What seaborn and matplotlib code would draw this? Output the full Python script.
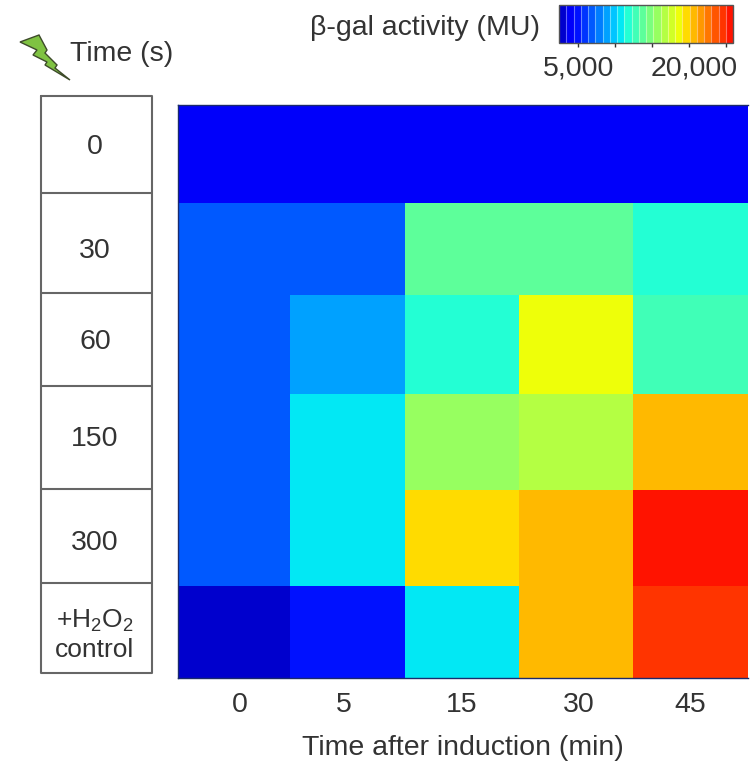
import numpy as np
import pandas as pd
import matplotlib
matplotlib.use("Agg")
import matplotlib.pyplot as plt
from matplotlib.colors import ListedColormap
from matplotlib.patches import Polygon
from matplotlib.transforms import ScaledTranslation
import seaborn as sns

sns.set_theme(style="white")
plt.rcParams['font.family'] = ['Liberation Sans', 'DejaVu Sans']
plt.rcParams['mathtext.default'] = 'regular'

induction_times = ["0", "5", "15", "30", "45"]
pulse_times = ["0", "30", "60", "150", "300", "+H$_2$O$_2$\ncontrol"]

row_0 = [3400, 3400, 3400, 3400, 3400]
row_30 = [7300, 7300, 13700, 13700, 12100]
row_60 = [7300, 8850, 11500, 18600, 12650]
row_150 = [7300, 10400, 15900, 16700, 20500]
row_300 = [7300, 11000, 19500, 21000, 26000]
row_ctrl = [3000, 4850, 11000, 21000, 25000]

VMIN, VMAX = 2400, 26000
W, H = 755, 761
FS = 20.5

# pixel edges of the unequal cells, and of the label table
col_edges = [178, 290, 405, 519, 633, 748]
row_edges = [105, 203, 295, 394, 490, 586, 678]
box_edges = [96, 193, 293, 386, 489, 583, 673]
label_y = [147, 251, 342, 439, 543, 635]

def axes_px(x0, y0, x1, y1):
    return [x0 / W, 1 - y1 / H, (x1 - x0) / W, (y1 - y0) / H]

def warp(edges):
    idx = np.arange(len(edges), dtype=float)
    px = np.asarray(edges, dtype=float)
    return (lambda v: np.interp(v, idx, px), lambda p: np.interp(p, px, idx))

fig = plt.figure(figsize=(W / 100, H / 100), dpi=100, facecolor="white")
ax = fig.add_axes(axes_px(178, 105, 748, 678))
cax = fig.add_axes(axes_px(559, 5, 733, 43))

df = pd.DataFrame([row_0, row_30, row_60, row_150, row_300, row_ctrl],
                  index=pulse_times, columns=induction_times)
cmap = ListedColormap(plt.get_cmap("jet")(np.linspace(0.07, 0.89, 24)))
sns.heatmap(df, ax=ax, cmap=cmap, vmin=VMIN, vmax=VMAX, cbar_ax=cax,
            cbar_kws={"orientation": "horizontal", "drawedges": True}, linewidths=0)

ax.set_xscale("function", functions=warp(col_edges))
ax.set_yscale("function", functions=warp(row_edges))
ax.set_xlim(0, 5)
ax.set_ylim(6, 0)

tc = "#333333"
ax.set_xticks([0.55, 1.47, 2.5, 3.52, 4.5], induction_times)
ax.set_xticks([], minor=True)
ax.set_yticks([])
ax.set_yticks([], minor=True)
ax.set_ylabel("")
ax.tick_params(axis="x", which="both", length=0, pad=10, labelsize=FS, labelcolor=tc)
ax.set_xlabel("Time after induction (min)", fontsize=FS, color=tc, labelpad=12)
for name, s in ax.spines.items():
    s.set_visible(name != "right")
    s.set_color("#1a2a6c")
    s.set_linewidth(1)

# colour bar
cbar = ax.collections[0].colorbar
cbar.set_ticks([5000, 10000, 15000, 20000, 25000], labels=["5,000", "", "", "20,000", ""])
cax.tick_params(axis="x", direction="inout", length=6, width=1, color="#333333",
                labelsize=FS, labelcolor=tc, pad=6, bottom=True)
lab20k = cax.get_xticklabels()[3]
lab20k.set_transform(lab20k.get_transform() + ScaledTranslation(5 / 100, 0, fig.dpi_scale_trans))
cbar.dividers.set_color("#ffffff")
cbar.dividers.set_alpha(0.4)
cbar.dividers.set_linewidth(0.8)
cbar.outline.set_edgecolor("#555555")
cbar.outline.set_linewidth(1)
fig.text(540 / W, 1 - 28 / H, "β-gal activity (MU)", ha="right", va="center",
         fontsize=FS, color=tc)

# row-label table
tab = fig.add_axes([0, 0, 1, 1], facecolor="none")
tab.set_xlim(0, W)
tab.set_ylim(H, 0)
tab.axis("off")
tab.plot([41, 152, 152, 41, 41], [96, 96, 673, 673, 96], color="#666666", lw=1.5)
tab.hlines(box_edges[1:-1], 41, 152, color="#666666", lw=1.5)
for lab, y in zip(pulse_times, label_y):
    tab.text(95, y, lab, ha="center", va="center", fontsize=FS if "\n" not in lab else 19,
             color=tc, linespacing=1.2)

# lightning bolt and heading
bolt = [(20, 42), (39, 35), (47, 50), (45, 53), (57, 65), (55, 68), (70, 80),
        (45, 65), (47, 62), (33, 55), (37, 50)]
tab.add_patch(Polygon(bolt, closed=True, fc="#7fc242", ec="#3d4a2a", lw=1))
tab.text(70, 54, "Time (s)", ha="left", va="center", fontsize=FS, color=tc)

fig.savefig("out.png", dpi=100, facecolor="white")
